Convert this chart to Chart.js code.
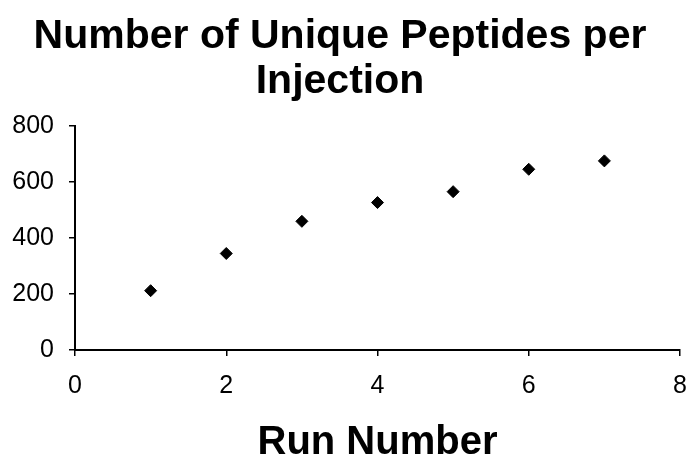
<!DOCTYPE html>
<html>
<head>
<meta charset="utf-8">
<script src="https://cdn.jsdelivr.net/npm/chart.js@4.4.1/dist/chart.umd.min.js"></script>
<style>
  html, body { margin: 0; padding: 0; background: #fff; }
  #wrap { width: 698px; height: 472px; }
</style>
</head>
<body>
<div id="wrap"><canvas id="chart"></canvas></div>
<script>
// data
var runNumbers = [1, 2, 3, 4, 5, 6, 7];
var uniquePeptides = [212, 345, 460, 527, 566, 646, 676];
var xTicks = [0, 2, 4, 6, 8];
var yTicks = [0, 200, 400, 600, 800];

var points = [];
for (var i = 0; i < runNumbers.length; i++) {
    points.push({x: runNumbers[i], y: uniquePeptides[i]});
}

var FONT = '"Liberation Sans", Arial, sans-serif';

// axis look shared by both scales
function axisGrid() {
    return {
        drawOnChartArea: false,
        drawTicks: true,
        tickLength: 6,
        color: '#000',
        lineWidth: 1.5
    };
}

var ctx = document.getElementById('chart').getContext('2d');
window.peptideChart = new Chart(ctx, {
    type: 'scatter',
    data: {
        datasets: [{
            label: 'Unique peptides',
            data: points,
            pointStyle: 'rectRot',
            pointRadius: 6,
            pointHoverRadius: 6,
            backgroundColor: '#000',
            borderColor: '#000',
            borderWidth: 1
        }]
    },
    options: {
        responsive: true,
        maintainAspectRatio: false,
        animation: false,
        layout: { autoPadding: false, padding: { left: 0, right: 18, top: 0, bottom: 0 } },
        plugins: {
            legend: { display: false },
            tooltip: { enabled: false },
            title: {
                display: true,
                text: ['Number of Unique Peptides per', 'Injection'],
                color: '#000',
                font: { family: FONT, size: 41, weight: 'bold', lineHeight: 1.1 },
                padding: { top: 14, bottom: 22 }
            }
        },
        scales: {
            x: {
                type: 'linear',
                min: 0,
                max: 8,
                afterBuildTicks: function (scale) {
                    scale.ticks = xTicks.map(function (v) { return {value: v}; });
                },
                afterFit: function (scale) {
                    scale.height = 122;
                    scale.paddingLeft = 0;
                    scale.paddingRight = 8;
                },
                grid: axisGrid(),
                border: { display: true, color: '#000', width: 2 },
                ticks: {
                    color: '#000',
                    padding: 15,
                    maxRotation: 0,
                    font: { family: FONT, size: 25 }
                },
                title: {
                    display: true,
                    text: 'Run Number',
                    color: '#000',
                    font: { family: FONT, size: 40, weight: 'bold', lineHeight: 1.2 },
                    padding: { top: 0, bottom: 5 }
                }
            },
            y: {
                type: 'linear',
                min: 0,
                max: 800,
                afterBuildTicks: function (scale) {
                    scale.ticks = yTicks.map(function (v) { return {value: v}; });
                },
                afterFit: function (scale) { scale.width = 75; },
                grid: axisGrid(),
                border: { display: true, color: '#000', width: 2 },
                ticks: {
                    color: '#000',
                    padding: 15,
                    font: { family: FONT, size: 25 }
                }
            }
        }
    }
});
</script>
</body>
</html>
